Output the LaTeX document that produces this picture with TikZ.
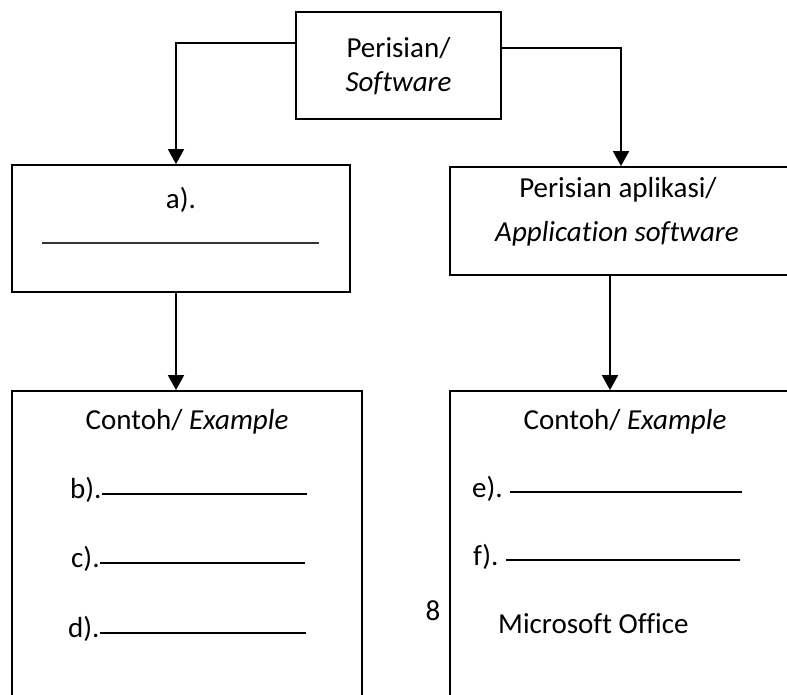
\documentclass[tikz,border=0pt]{standalone}
\usepackage{fontspec}
\setmainfont[Ligatures={NoCommon}]{Carlito}
\usepackage{tikz}
\usetikzlibrary{positioning,arrows.meta}

\begin{document}
\begin{tikzpicture}[x=1pt, y=-1pt,
    box/.style={draw, line width=1.8pt, inner sep=0pt},
    lbl/.style={inner sep=0pt, font=\fontsize{29}{35}\selectfont},
    link/.style={line width=1.8pt, -{Triangle[width=16pt,length=15pt]}},
    blank/.style={line width=2.5pt},
    blankthin/.style={line width=1.2pt, black!80}]
  \useasboundingbox (0,0) rectangle (787,694);
  % Define boxes
  \node[box, minimum width=205pt, minimum height=107pt] (soft) at (398.5,65.5) {};
  \node[box, minimum width=338pt, minimum height=127pt] (sys) at (181,228.5) {};
  \node[box, minimum width=340pt, minimum height=108pt] (app) at (620,221) {};
  \node[box, minimum width=350pt, minimum height=319pt] (exsys) at (187,550.5) {};
  \node[box, minimum width=350pt, minimum height=319pt] (exapp) at (625,550.5) {};
  % Texts
  \node[lbl, anchor=base] (soft1) at (398.5,57) {Perisian/};
  \node[lbl, anchor=base] (soft2) at (398.5,91) {\textit{Software}};
  \node[lbl, anchor=base] (sys1) at (181,208) {a).};
  \node[lbl, anchor=base] (app1) at (618,197) {Perisian aplikasi/};
  \node[lbl, anchor=base] (app2) at (617,241) {\textit{Application software}};
  \node[lbl, anchor=base] (exsys1) at (187,429) {Contoh/ \textit{Example}};
  \node[lbl, anchor=base] (exapp1) at (625,429) {Contoh/ \textit{Example}};
  \node[lbl, anchor=base west] (b) at (70,498) {b).};
  \node[lbl, anchor=base west] (c) at (71,567) {c).};
  \node[lbl, anchor=base west] (d) at (68,637) {d).};
  \node[lbl, anchor=base west] (e) at (472,497) {e).};
  \node[lbl, anchor=base west] (f) at (473,565) {f).};
  \node[lbl, anchor=base] (pg) at (433,620) {8};
  \node[lbl, anchor=base west] (ms) at (498,633) {Microsoft Office};
  % Blanks
  \coordinate (asl) at (42,243);
  \coordinate (asr) at (319,243);
  \draw[blankthin] (asl) -- (asr);
  \draw[blank] ([yshift=4pt]b.base east) -- ++(205,0);
  \draw[blank] ([yshift=4pt]c.base east) -- ++(205,0);
  \draw[blank] ([yshift=4pt]d.base east) -- ++(206,0);
  \draw[blank] ([xshift=7pt,yshift=5pt]e.base east) -- ++(232,0);
  \draw[blank] ([xshift=7pt,yshift=5pt]f.base east) -- ++(234,0);
  % Connectors
  \coordinate (kl) at (176,43);
  \coordinate (kr) at (621,48);
  \coordinate (kb) at (610,0);
  \draw[link] (soft.west |- kl) -- (kl) -- (kl |- sys.north);
  \draw[link] (soft.east |- kr) -- (kr) -- (kr |- app.north);
  \draw[link] (kl |- sys.south) -- (kl |- exsys.north);
  \draw[link] (kb |- app.south) -- (kb |- exapp.north);
\end{tikzpicture}
\end{document}
